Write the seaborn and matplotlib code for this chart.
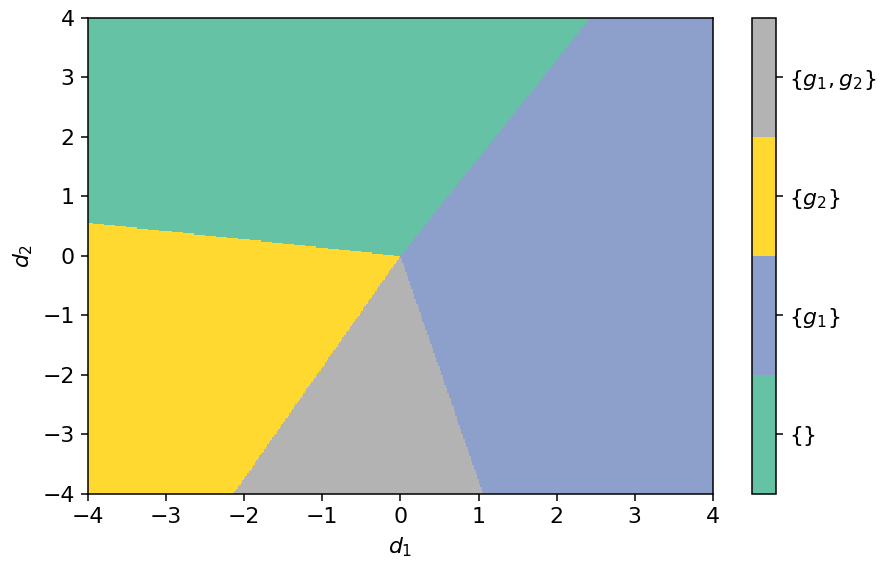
import numpy as np
import matplotlib
matplotlib.use("Agg")
import matplotlib.pyplot as plt
from matplotlib.colors import ListedColormap, BoundaryNorm
import seaborn as sns

# Region labels (colorbar order, bottom to top)
region_labels = ["{}", "{$g_1$}", "{$g_2$}", "{$g_1, g_2$}"]

# Boundary rays from the origin (end points on the frame)
ray_green_blue = (2.43, 4.0)      # between {} and {g1}
ray_green_yellow = (-4.0, 0.56)   # between {} and {g2}
ray_yellow_gray = (-2.14, -4.0)   # between {g2} and {g1,g2}
ray_gray_blue = (1.06, -4.0)      # between {g1,g2} and {g1}

d_range = [-4, 4]
n_grid = 400

plt.rcParams["font.size"] = 11.5

pal = sns.color_palette("Set2")
colors = [pal[0], pal[2], pal[5], pal[7]]
cmap = ListedColormap(colors)
norm = BoundaryNorm([-0.5, 0.5, 1.5, 2.5, 3.5], cmap.N)

d1 = np.linspace(d_range[0], d_range[1], n_grid)
d2 = np.linspace(d_range[0], d_range[1], n_grid)
D1, D2 = np.meshgrid(d1, d2)
ang = np.degrees(np.arctan2(D2, D1)) % 360

def a(p):
    return np.degrees(np.arctan2(p[1], p[0])) % 360

a_gb = a(ray_green_blue)
a_gy = a(ray_green_yellow)
a_yg = a(ray_yellow_gray)
a_gr = a(ray_gray_blue)

Z = np.full(D1.shape, 1)  # {g1} default
Z[(ang >= a_gb) & (ang < a_gy)] = 0
Z[(ang >= a_gy) & (ang < a_yg)] = 2
Z[(ang >= a_yg) & (ang < a_gr)] = 3

fig = plt.figure(figsize=(6.4, 562 / 137.5), dpi=137.5)
ax = fig.add_axes([0.1, 0.121, 0.71, 0.847])
cax = fig.add_axes([752 / 880, 0.121, 24 / 880, 0.847])

mesh = ax.pcolormesh(D1, D2, Z, cmap=cmap, norm=norm, shading="nearest", rasterized=True)
ax.set_xlim(d_range)
ax.set_ylim(d_range)
ax.set_xticks(np.arange(-4, 5, 1))
ax.set_yticks(np.arange(-4, 5, 1))
ax.set_xlabel("$d_1$")
ax.set_ylabel("$d_2$")

cb = fig.colorbar(mesh, cax=cax, ticks=[0, 1, 2, 3])
cb.set_ticklabels(region_labels)
cb.minorticks_off()

fig.savefig("out.png", dpi=137.5)
